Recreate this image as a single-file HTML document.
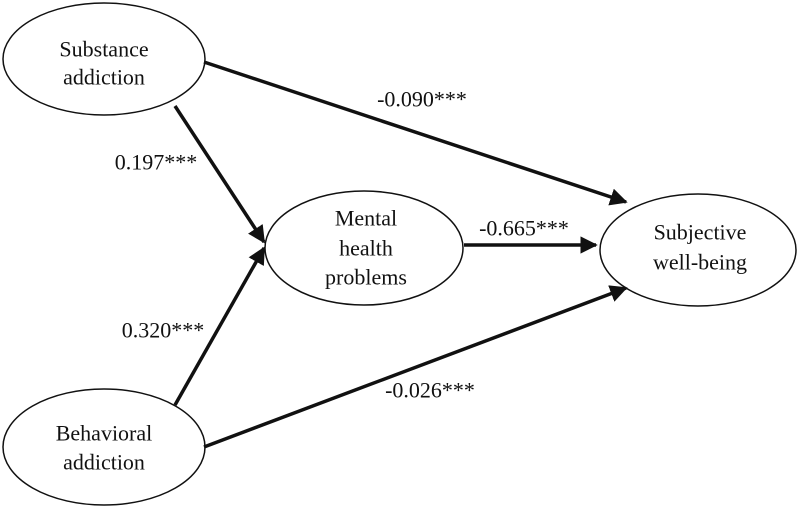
<!DOCTYPE html>
<html><head><meta charset="utf-8"><style>
html,body{margin:0;padding:0;background:#fff;}
svg{display:block}
text{font-family:"Liberation Serif",serif;font-size:22px;fill:#111;text-anchor:middle;dominant-baseline:central}
</style></head><body>
<svg width="800" height="509" viewBox="0 0 800 509">
<defs>
<marker id="a" markerWidth="5" markerHeight="5" refX="4.5" refY="2.5" orient="auto" markerUnits="strokeWidth">
<path d="M0,0 L5,2.5 L0,5 z" fill="#111"/>
</marker>
</defs>
<g fill="#fff" stroke="#111" stroke-width="1.5">
<ellipse cx="104" cy="59" rx="101" ry="56"/>
<ellipse cx="104" cy="447" rx="101" ry="58"/>
<ellipse cx="364" cy="248" rx="99" ry="57"/>
<ellipse cx="698" cy="250" rx="98" ry="56"/>
</g>
<g stroke="#111" stroke-width="3.5" marker-end="url(#a)">
<line x1="204" y1="62" x2="626" y2="202"/>
<line x1="175" y1="106" x2="264" y2="242"/>
<line x1="175" y1="405" x2="264" y2="248"/>
<line x1="204" y1="447" x2="626" y2="288"/>
<line x1="464" y1="245" x2="596" y2="245"/>
</g>
<text x="104" y="49">Substance</text>
<text x="104" y="77">addiction</text>
<text x="104" y="433">Behavioral</text>
<text x="104" y="462">addiction</text>
<text x="366" y="218">Mental</text>
<text x="366" y="248">health</text>
<text x="366" y="277">problems</text>
<text x="700" y="232">Subjective</text>
<text x="700" y="262">well-being</text>
<text x="422" y="99">-0.090***</text>
<text x="156" y="162">0.197***</text>
<text x="524" y="228">-0.665***</text>
<text x="163" y="330">0.320***</text>
<text x="430" y="390">-0.026***</text>
</svg>
</body></html>
